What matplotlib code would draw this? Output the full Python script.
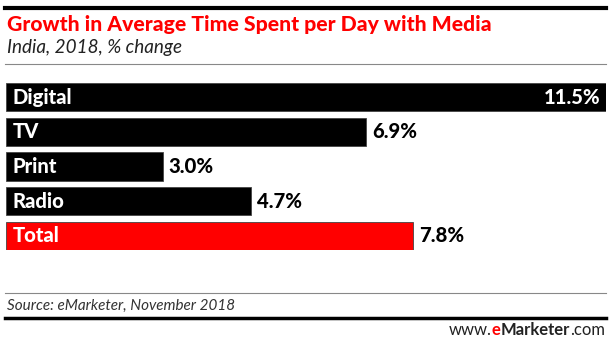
import matplotlib
matplotlib.use("Agg")
import matplotlib.pyplot as plt
from matplotlib.lines import Line2D

categorias = ["Digital", "TV", "Print", "Radio", "Total"]
valores = [11.5, 6.9, 3.0, 4.7, 7.8]
etiquetas = ["11.5%", "6.9%", "3.0%", "4.7%", "7.8%"]
colores = ["#000000", "#000000", "#000000", "#000000", "#ff0000"]

titulo = "Growth in Average Time Spent per Day with Media"
subtitulo = "India, 2018, % change"
fuente = "Source: eMarketer, November 2018"

W, H = 612, 349
fam = ["Lato", "DejaVu Sans"]

def fx(px):
    return px / W

def fy(py):
    return 1 - py / H

fig = plt.figure(figsize=(W / 100, H / 100), dpi=100)
fig.canvas.draw()
r = fig.canvas.get_renderer()

def ajustar(t, ancho):
    # escala el tamaño de letra para que el texto mida 'ancho' px
    w = t.get_window_extent(r).width
    t.set_fontsize(t.get_fontsize() * ancho / w)

# lineas horizontales
fig.add_artist(Line2D([fx(5), fx(606)], [fy(8), fy(8)], color="black", lw=3))
fig.add_artist(Line2D([fx(5), fx(606)], [fy(64), fy(64)], color="#888888", lw=0.8))
fig.add_artist(Line2D([fx(5), fx(606)], [fy(293), fy(293)], color="#888888", lw=0.8))
fig.add_artist(Line2D([fx(5), fx(606)], [fy(318), fy(318)], color="black", lw=2.5))

t = fig.text(fx(7), fy(31), titulo, color="#ff0000", fontsize=14, fontweight="black",
             family=fam, va="baseline")
ajustar(t, 484)
t = fig.text(fx(7), fy(53), subtitulo, color="#222222", fontsize=14, style="italic",
             family=fam, va="baseline")
ajustar(t, 176)

ax = fig.add_axes([fx(6), fy(250), fx(600), (250 - 83) / H])
y = list(range(len(categorias)))
ax.barh(y, valores, height=0.82, color=colores, edgecolor="#444444", linewidth=0.6)
ax.set_xlim(0, 11.5)
ax.set_ylim(len(categorias) - 0.59, -0.41)
ax.axis("off")

ref = fig.text(0, 0, "Digital", fontsize=14, fontweight="black", family=fam)
ajustar(ref, 60)
fs_bar = ref.get_fontsize()
ref.remove()

for i, (cat, val, lab) in enumerate(zip(categorias, valores, etiquetas)):
    ax.annotate(cat, (0, i), xytext=(5, 0), textcoords="offset points",
                color="white", fontsize=fs_bar, fontweight="black", family=fam,
                va="center", ha="left")
    if val == max(valores):
        ax.annotate(lab, (val, i), xytext=(-4, 0), textcoords="offset points",
                    color="white", fontsize=fs_bar, fontweight="black", family=fam,
                    va="center", ha="right")
    else:
        ax.annotate(lab, (val, i), xytext=(4.5, 0), textcoords="offset points",
                    color="black", fontsize=fs_bar, fontweight="black", family=fam,
                    va="center", ha="left")

t = fig.text(fx(7), fy(310), fuente, color="#333333", fontsize=10, style="italic",
             family=fam, va="baseline")
ajustar(t, 229)

# www.eMarketer.com
t1 = fig.text(fx(605), fy(338), ".com", color="#222222", fontsize=12, family=fam,
              ha="right", va="bottom")
t2 = fig.text(0, 0, "Marketer", color="#222222", fontsize=12, fontweight="bold",
              family=fam, ha="right", va="bottom")
t3 = fig.text(0, 0, "e", color="#ff0000", fontsize=12, fontweight="bold",
              family=fam, ha="right", va="bottom")
t4 = fig.text(0, 0, "www.", color="#222222", fontsize=12, family=fam,
              ha="right", va="bottom")
fig.canvas.draw()
prev = t1
for t in [t2, t3, t4]:
    bb = prev.get_window_extent(r)
    t.set_position((bb.x0 / W, fy(338)))
    fig.canvas.draw()
    prev = t

fig.savefig("out.png", dpi=100)
